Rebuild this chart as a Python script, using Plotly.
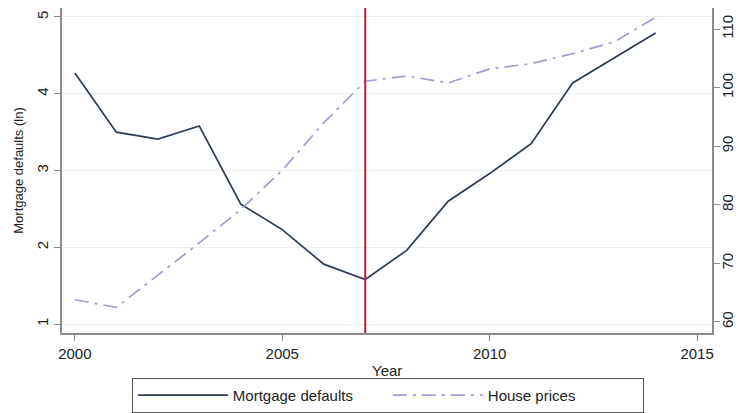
import plotly.graph_objects as go

# Annual series
years = list(range(2000, 2015))
mortgage_defaults_ln = [4.27, 3.50, 3.41, 3.58, 2.56, 2.23, 1.78, 1.58,
                        1.96, 2.60, 2.96, 3.35, 4.14, 4.47, 4.79]
house_prices = [63.8, 62.5, 68.0, 73.5, 79.2, 85.9, 94.0, 101.1,
                102.0, 100.8, 103.2, 104.1, 105.8, 107.8, 112.0]
crisis_year = 2007

left_ticks = [1, 2, 3, 4, 5]
right_ticks = [60, 70, 80, 90, 100, 110]
x_ticks = [2000, 2005, 2010, 2015]

FONT = "Liberation Sans, Arial, sans-serif"
AXIS_COLOR = "#8a8a8a"

fig = go.Figure()

fig.add_trace(go.Scatter(
    x=years, y=mortgage_defaults_ln, mode="lines",
    name="Mortgage defaults",
    line=dict(color="#2b3d55", width=1.7),
    yaxis="y",
))
fig.add_trace(go.Scatter(
    x=years, y=house_prices, mode="lines",
    name="House prices",
    line=dict(color="#a09ed2", width=1.7, dash="14px,6px,3px,6px"),
    yaxis="y2",
))

# Vertical marker at the crisis year
fig.add_shape(type="line", xref="x", yref="paper",
              x0=crisis_year, x1=crisis_year, y0=0, y1=1,
              line=dict(color="#c8193f", width=2))

# x-axis title placed below the tick labels
fig.add_annotation(text="Year", xref="paper", yref="paper",
                   x=0.5, y=-0.114, xanchor="center", yanchor="middle",
                   showarrow=False, font=dict(family=FONT, size=15, color="#222222"))

fig.update_layout(
    width=743, height=413,
    margin=dict(l=62, r=31, t=8, b=80, autoexpand=False),
    paper_bgcolor="white", plot_bgcolor="white",
    font=dict(family=FONT, size=14, color="#222222"),
    showlegend=True,
    legend=dict(
        orientation="h",
        x=0.522, xanchor="center",
        y=0.085, yanchor="top",
        xref="container", yref="container",
        bordercolor="#555555", borderwidth=1,
        font=dict(family=FONT, size=15, color="#222222"),
        entrywidth=150, entrywidthmode="pixels",
        itemwidth=90,
        tracegroupgap=0,
    ),
    xaxis=dict(
        range=[1999.69, 2015.36],
        tickvals=x_ticks, automargin=False,
        ticks="outside", ticklen=6, tickwidth=1.2, tickcolor=AXIS_COLOR,
        showline=True, linecolor=AXIS_COLOR, linewidth=1.5,
        showgrid=False, zeroline=False,
        tickfont=dict(size=15),
    ),
    yaxis=dict(
        range=[0.883, 5.117],
        tickvals=left_ticks, automargin=False,
        tickangle=-90,
        ticks="outside", ticklen=6, tickwidth=1.2, tickcolor=AXIS_COLOR,
        showline=True, linecolor=AXIS_COLOR, linewidth=1.5,
        showgrid=True, gridcolor="#ededed", gridwidth=1,
        zeroline=False,
        tickfont=dict(size=15),
        title=dict(text="Mortgage defaults (ln)", font=dict(size=13), standoff=8),
    ),
    yaxis2=dict(
        range=[58.12, 113.6],
        tickvals=right_ticks, automargin=False,
        tickangle=-90,
        overlaying="y", side="right",
        ticks="outside", ticklen=6, tickwidth=1.2, tickcolor=AXIS_COLOR,
        ticklabelstandoff=-5,
        showline=True, linecolor=AXIS_COLOR, linewidth=1.5,
        showgrid=False, zeroline=False,
        tickfont=dict(size=15),
    ),
)

fig.write_html("out.html")
